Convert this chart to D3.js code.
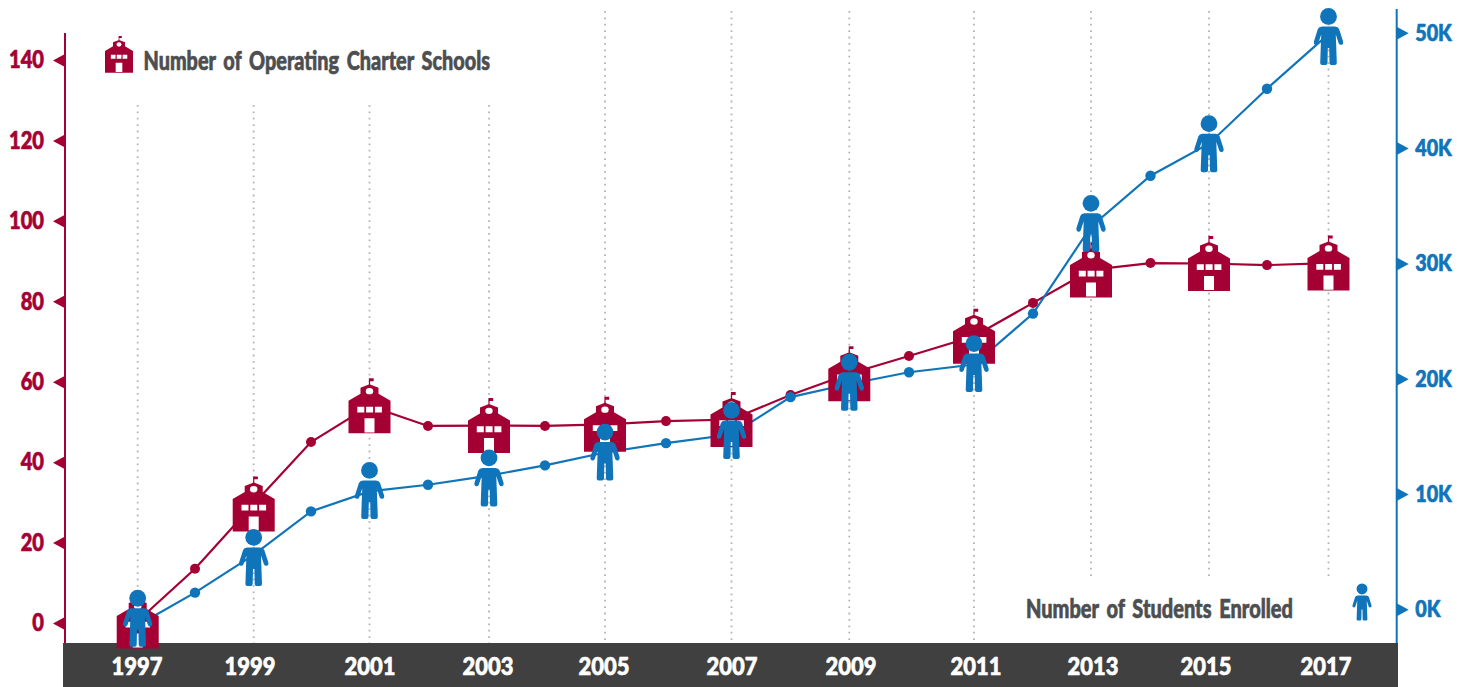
<!DOCTYPE html>
<html>
<head>
<meta charset="utf-8">
<script src="https://cdn.jsdelivr.net/npm/d3@7/dist/d3.min.js"></script>
<style>
html,body{margin:0;padding:0;background:#fff;overflow:hidden}
svg{display:block}
text{font-family:Lato,"Open Sans",sans-serif;font-weight:900;stroke-linejoin:round}
</style>
</head>
<body>
<svg id="chart" width="1471" height="687"></svg>
<script>
const years = d3.range(1997, 2018);
const labelYears = [1997,1999,2001,2003,2005,2007,2009,2011,2013,2015,2017];
const schools = [0.5,13.5,29.6,45,54,49,49.1,49,49.4,50.2,50.6,56.7,62,66.4,71.3,79.6,87.8,89.5,89.4,89,89.5];
const students = [-1.39,1.45,4.72,8.49,10.23,10.8,11.6,12.48,13.6,14.41,15.16,18.4,19.54,20.56,21.23,25.65,33.19,37.6,40.38,45.15,49.88];
const studentIconValues = [-0.82,4.46,10.27,11.35,13.59,15.47,19.65,21.27,33.43,40.34,49.64];
const schoolTicks = [0,20,40,60,80,100,120,140];
const studentTicks = [0,10,20,30,40,50];
const schoolLegend = "Number of Operating Charter Schools";
const studentLegend = "Number of Students Enrolled";

const RED = "#a50034", BLUE = "#1074bb", BAR = "#404040", GREY = "#4d4e50";
const svg = d3.select("#chart");

// The source spaces its years slightly unevenly, so x is a piecewise scale.
const x = d3.scaleLinear().domain(years).range([137.7,195,253.7,311,369.5,428,489,545,605,666,731.5,790.5,849.3,909,974,1033,1091,1150.5,1209,1267,1328.5]);
const labelCentres = d3.scaleOrdinal().domain(labelYears).range([137,250,370,488,604,732,851,976,1093,1206,1326]);
const yL = d3.scaleLinear().domain([0,140]).range([623,60]);
const yR = d3.scaleLinear().domain([0,50]).range([609.3,32.8]);

const fit = (sel, factor) => sel.each(function(){
  this.setAttribute("textLength", this.getComputedTextLength()*factor);
  this.setAttribute("lengthAdjust","spacingAndGlyphs");
});
const heavy = (sel, col, w) => sel.attr("stroke",col).attr("stroke-width",w);

// grid
svg.append("g").selectAll("line").data(labelYears).join("line")
  .attr("x1", d=>x(d)).attr("x2", d=>x(d))
  .attr("y1", d=>d<=2003?105:11)
  .attr("y2", d=>d>=2013?579:643)
  .attr("stroke","#b4b5b8").attr("stroke-width",1.8).attr("stroke-dasharray","1.8 4.6");

// bottom band
svg.append("rect").attr("x",63).attr("y",643).attr("width",1335).attr("height",44).attr("fill",BAR);
svg.append("g").selectAll("text").data(labelYears).join("text")
  .attr("x", d=>labelCentres(d)).attr("y",675).attr("text-anchor","middle")
  .attr("font-size",25.5).attr("fill","#fff").text(d=>d).call(fit,0.86).call(heavy,"#fff",0.7);

// axes
const gL = svg.append("g").attr("transform","translate(65,0)").call(d3.axisLeft(yL).tickValues(schoolTicks).tickSize(0).tickPadding(21));
gL.select(".domain").remove();
gL.selectAll("text").attr("font-size",24.5).attr("fill",RED).attr("font-family",null).call(fit,0.82).call(heavy,RED,0.7);
gL.selectAll(".tick").append("path").attr("d","M0,-6.5L-12,0L0,6.5Z").attr("fill",RED);
gL.append("line").attr("y1",33).attr("y2",643).attr("stroke",RED).attr("stroke-width",2);

const gR = svg.append("g").attr("transform","translate(1396.7,0)").call(d3.axisRight(yR).tickValues(studentTicks).tickSize(0).tickPadding(18.5).tickFormat(d=>d+"K"));
gR.select(".domain").remove();
gR.selectAll("text").attr("font-size",23.5).attr("fill",BLUE).attr("font-family",null).call(fit,0.84).call(heavy,BLUE,0.7);
gR.selectAll(".tick").append("path").attr("d","M0,-6.5L12,0L0,6.5Z").attr("fill",BLUE);
gR.append("line").attr("y1",9).attr("y2",643).attr("stroke",BLUE).attr("stroke-width",2);

// lines and dots
const drawSeries = (vals, scale, col, r) => {
  const line = d3.line().x((d,i)=>x(years[i])).y(d=>scale(d));
  svg.append("path").attr("d",line(vals)).attr("fill","none").attr("stroke",col).attr("stroke-width",2.2);
  svg.append("g").selectAll("circle").data(vals.map((v,i)=>[years[i],v]).filter(d=>d[0]%2===0)).join("circle")
    .attr("cx",d=>x(d[0])).attr("cy",d=>scale(d[1])).attr("r",r).attr("fill",col);
};
drawSeries(schools, yL, RED, 5);
drawSeries(students, yR, BLUE, 5.2);

// icons
const schoolBody = "M0,-21.5L9,-18V-12L21,-5V27.5H-21V-5L-9,-12V-18Z";
const schoolFlag = "M-0.6,-27.5H4.2V-24.6H0.6V-21H-0.6Z";
const schoolHoles = "M-12.2,0.8H-5.2V6.6H-12.2ZM-3.4,0.8H3.6V6.6H-3.4ZM5.4,0.8H12.4V6.6H5.4ZM-5,12.5H5V26.6H-5Z";
const drawSchool = (g) => {
  g.append("path").attr("d",schoolBody+schoolFlag).attr("fill",RED);
  g.append("path").attr("d",schoolHoles).attr("fill","#fff");
  g.append("ellipse").attr("cx",0).attr("cy",-14.7).attr("rx",3.7).attr("ry",3.2).attr("fill","#fff");
};
const personBody = "M-6.5,-10.5H6.5Q9.6,-10.5 10.6,-8L14.6,4.5Q15.2,7.2 13.2,7.8Q11.2,8.3 10.2,6.3L7.3,-2.5L8.3,26Q8.3,28 6.3,28H3Q1,28 1,26L0.7,11H-0.7L-1,26Q-1,28 -3,28H-6.3Q-8.3,28 -8.3,26L-7.3,-2.5L-10.2,6.3Q-11.2,8.3 -13.2,7.8Q-15.2,7.2 -14.6,4.5L-10.6,-8Q-9.6,-10.5 -6.5,-10.5Z";
const drawPerson = (g) => {
  g.append("circle").attr("cx",0).attr("cy",-20.5).attr("r",8.4).attr("fill",BLUE);
  g.append("path").attr("d",personBody).attr("fill",BLUE);
};

svg.append("g").selectAll("g").data(labelYears).join("g")
  .attr("transform",d=>`translate(${x(d)},${yL(schools[d-1997])})`)
  .each(function(){drawSchool(d3.select(this));});
svg.append("g").selectAll("g").data(labelYears).join("g")
  .attr("transform",(d,i)=>`translate(${x(d)},${yR(studentIconValues[i])})`)
  .each(function(){drawPerson(d3.select(this));});

// legends
drawSchool(svg.append("g").attr("transform","translate(119,54.3) scale(0.667)"));
drawPerson(svg.append("g").attr("transform","translate(1362,602.3) scale(0.65)"));
svg.append("text").attr("x",143.5).attr("y",70).attr("font-size",26.5).attr("fill",GREY).attr("word-spacing",4)
  .attr("textLength",346.5).attr("lengthAdjust","spacingAndGlyphs").text(schoolLegend).call(heavy,GREY,0.7);
svg.append("text").attr("x",1026).attr("y",618).attr("font-size",26.5).attr("fill",GREY).attr("word-spacing",4)
  .attr("textLength",267).attr("lengthAdjust","spacingAndGlyphs").text(studentLegend).call(heavy,GREY,0.7);
</script>
</body>
</html>
